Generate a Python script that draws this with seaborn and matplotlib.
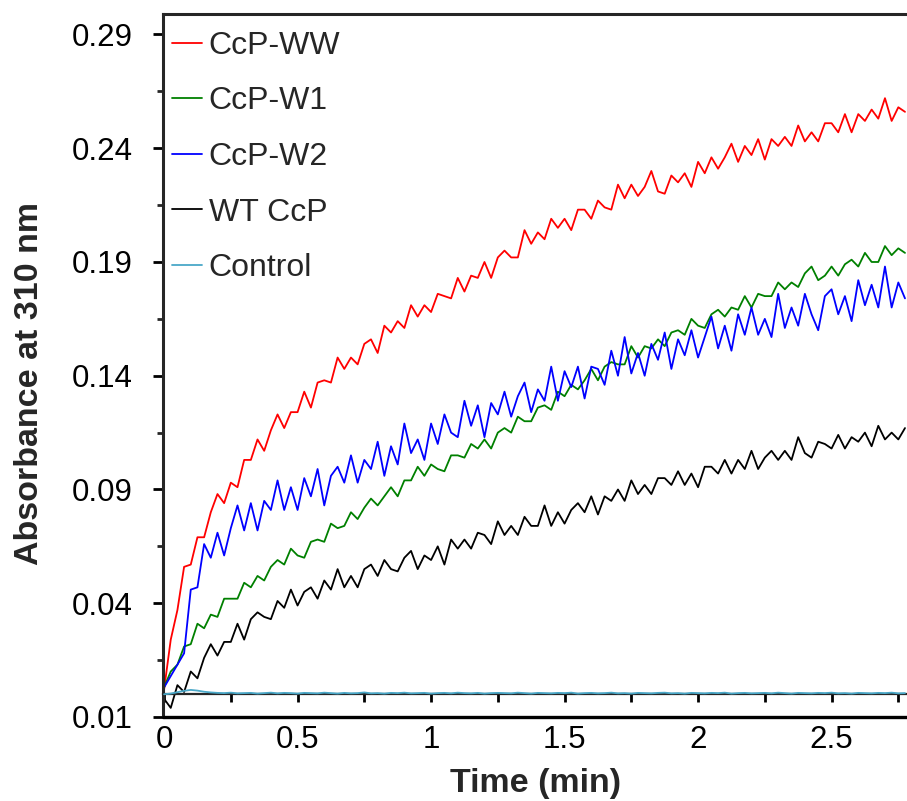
import numpy as np
import pandas as pd
import matplotlib
matplotlib.use("Agg")
import matplotlib.pyplot as plt
import seaborn as sns

# sample times (min), one reading every 0.025 min
time_min = np.arange(112) * 0.025

series_names = ["CcP-WW", "CcP-W1", "CcP-W2", "WT CcP", "Control"]
series_colors = ["#ff0000", "#008000", "#0000ff", "#000000", "#4aa8c8"]

# absorbance readings at 310 nm, in milli-units
ccp_ww = [
    2, 24, 37, 56, 57, 69, 69, 80, 88, 84,
    93, 91, 103, 103, 112, 107, 116, 123, 117, 124,
    124, 133, 126, 137, 138, 137, 148, 143, 148, 145,
    154, 156, 150, 162, 159, 164, 161, 171, 166, 171,
    168, 176, 175, 174, 183, 177, 184, 183, 190, 183,
    192, 195, 192, 192, 204, 198, 203, 200, 209, 205,
    209, 204, 213, 213, 209, 217, 214, 213, 224, 218,
    224, 219, 223, 230, 221, 220, 228, 225, 229, 223,
    234, 229, 236, 231, 236, 242, 234, 241, 237, 244,
    235, 244, 241, 245, 241, 250, 243, 247, 243, 251,
    251, 247, 255, 247, 255, 252, 257, 253, 262, 252,
    258, 256,
]
ccp_w1 = [
    3, 10, 13, 21, 22, 31, 29, 35, 34, 42,
    42, 42, 49, 47, 52, 50, 56, 59, 57, 64,
    61, 60, 67, 68, 67, 75, 73, 74, 80, 77,
    82, 86, 83, 87, 91, 87, 94, 94, 100, 96,
    101, 99, 98, 105, 105, 104, 110, 108, 112, 108,
    115, 117, 115, 122, 120, 120, 126, 127, 125, 133,
    131, 136, 134, 138, 143, 138, 144, 146, 145, 145,
    153, 148, 153, 152, 156, 153, 159, 160, 158, 165,
    162, 161, 167, 169, 166, 170, 169, 175, 170, 176,
    175, 175, 181, 178, 181, 179, 185, 188, 182, 184,
    188, 184, 189, 191, 188, 194, 190, 190, 197, 193,
    196, 194,
]
ccp_w2 = [
    3, 8, 13, 18, 46, 47, 66, 60, 71, 61,
    73, 83, 72, 84, 72, 85, 81, 94, 81, 91,
    81, 95, 87, 99, 83, 96, 100, 93, 105, 93,
    103, 99, 111, 96, 109, 101, 119, 106, 112, 103,
    119, 110, 123, 115, 113, 129, 118, 127, 113, 128,
    123, 133, 122, 131, 137, 124, 134, 129, 144, 129,
    142, 135, 144, 130, 144, 143, 136, 151, 140, 157,
    141, 150, 140, 154, 147, 159, 143, 156, 149, 160,
    148, 157, 166, 152, 162, 151, 167, 158, 170, 158,
    165, 157, 176, 161, 170, 162, 176, 167, 160, 175,
    178, 167, 175, 164, 182, 171, 180, 170, 188, 170,
    181, 174,
]
wt_ccp = [
    -2, -6, 4, 1, 10, 7, 16, 22, 17, 23,
    23, 31, 24, 33, 36, 34, 33, 41, 38, 46,
    39, 45, 47, 42, 50, 46, 55, 47, 52, 47,
    55, 57, 52, 59, 55, 54, 60, 63, 55, 61,
    59, 65, 57, 68, 64, 68, 64, 71, 70, 66,
    76, 70, 74, 70, 78, 74, 74, 83, 74, 80,
    75, 81, 84, 80, 87, 79, 87, 85, 90, 85,
    94, 88, 92, 88, 95, 95, 92, 98, 92, 97,
    91, 100, 100, 97, 103, 97, 103, 99, 107, 99,
    104, 107, 103, 107, 103, 113, 106, 104, 111, 110,
    108, 114, 108, 113, 111, 115, 109, 118, 112, 115,
    112, 117,
]
control = [
    0.0, 0.3, 0.9, 1.5, 1.9, 1.6, 1.1, 0.8, 0.6, 0.5, 0.7, 0.4, 0.5, 0.6, 0.3, 0.5, 0.7, 0.4, 0.6, 0.5,
    0.3, 0.6, 0.5, 0.4, 0.7, 0.5, 0.3, 0.6, 0.4, 0.5, 0.8, 0.4, 0.5, 0.3, 0.6, 0.5, 0.7, 0.4, 0.5, 0.6,
    0.3, 0.5, 0.6, 0.4, 0.7, 0.5, 0.4, 0.6, 0.3, 0.5, 0.6, 0.5, 0.4, 0.7, 0.5, 0.3, 0.6, 0.5, 0.4, 0.6,
    0.5, 0.7, 0.3, 0.5, 0.6, 0.4, 0.5, 0.7, 0.4, 0.5, 0.3, 0.6, 0.5, 0.4, 0.6, 0.7, 0.4, 0.5, 0.3, 0.6,
    0.5, 0.4, 0.6, 0.5, 0.7, 0.3, 0.5, 0.6, 0.4, 0.5, 0.6, 0.4, 0.7, 0.5, 0.3, 0.6, 0.5, 0.4, 0.6, 0.5,
    0.7, 0.4, 0.5, 0.3, 0.6, 0.5, 0.4, 0.6, 0.5, 0.7, 0.4, 0.5,
]

y_ticks = [-0.01, 0.04, 0.09, 0.14, 0.19, 0.24, 0.29]
y_tick_labels = ["0.01", "0.04", "0.09", "0.14", "0.19", "0.24", "0.29"]
x_ticks = [0, 0.5, 1, 1.5, 2, 2.5]
x_tick_labels = ["0", "0.5", "1", "1.5", "2", "2.5"]

sns.set_style("ticks")
plt.rcParams["font.family"] = ["Liberation Sans", "DejaVu Sans"]

frames = []
for name, vals in zip(series_names, [ccp_ww, ccp_w1, ccp_w2, wt_ccp, control]):
    frames.append(pd.DataFrame({"time": time_min,
                                "absorbance": np.array(vals, dtype=float) / 1000.0,
                                "sample": name}))
df = pd.concat(frames, ignore_index=True)

fig = plt.figure(figsize=(9.07, 8.01), dpi=100)
ax = fig.add_axes([163 / 907, 84 / 801, 746 / 907, 703 / 801])

sns.lineplot(data=df, x="time", y="absorbance", hue="sample", hue_order=series_names,
             palette=dict(zip(series_names, series_colors)), estimator=None,
             linewidth=1.3, ax=ax)
ax.lines[4].set_zorder(3)

ax.set_xlim(-0.004, 2.79)
ax.set_ylim(-0.01, 0.299)

# axes frame: x axis sits on the zero line, bottom edge drawn separately
ax.spines["bottom"].set_position(("data", 0))
ax.spines["bottom"].set_linewidth(1.6)
for side in ["left", "top", "right"]:
    ax.spines[side].set_linewidth(2.2)
ax.axhline(-0.01, color="black", lw=2.4, clip_on=False, zorder=2.6)

ax.set_yticks(y_ticks)
ax.set_yticklabels(y_tick_labels)
ax.set_yticks([(a + b) / 2 for a, b in zip(y_ticks[:-1], y_ticks[1:])], minor=True)
ax.set_xticks(x_ticks)
ax.set_xticklabels(x_tick_labels)
ax.set_xticks([0.25, 0.75, 1.25, 1.75, 2.25, 2.75], minor=True)

ax.tick_params(axis="y", which="major", direction="out", length=7, width=2, pad=15,
               labelsize=22.5, colors="black")
ax.tick_params(axis="y", which="minor", direction="out", length=4.5, width=2)
ax.tick_params(axis="x", which="both", direction="out", length=6, width=2, pad=16,
               labelsize=22.5, colors="black")

ax.set_xlabel("Time (min)", fontsize=24.5, fontweight="bold")
ax.set_ylabel("Absorbance at 310 nm", fontsize=24.5, fontweight="bold")
ax.xaxis.set_label_coords(0.5, -0.072)
ax.yaxis.set_label_coords(-0.158, 0.474)

handles, labels = ax.get_legend_handles_labels()
ax.legend(handles, labels, loc="upper left", bbox_to_anchor=(0.012, 0.976),
          frameon=False, fontsize=23, handlelength=0.95, handletextpad=0.2,
          labelspacing=0.8, borderpad=0, borderaxespad=0)

fig.savefig("out.png", dpi=100)
plt.close(fig)
